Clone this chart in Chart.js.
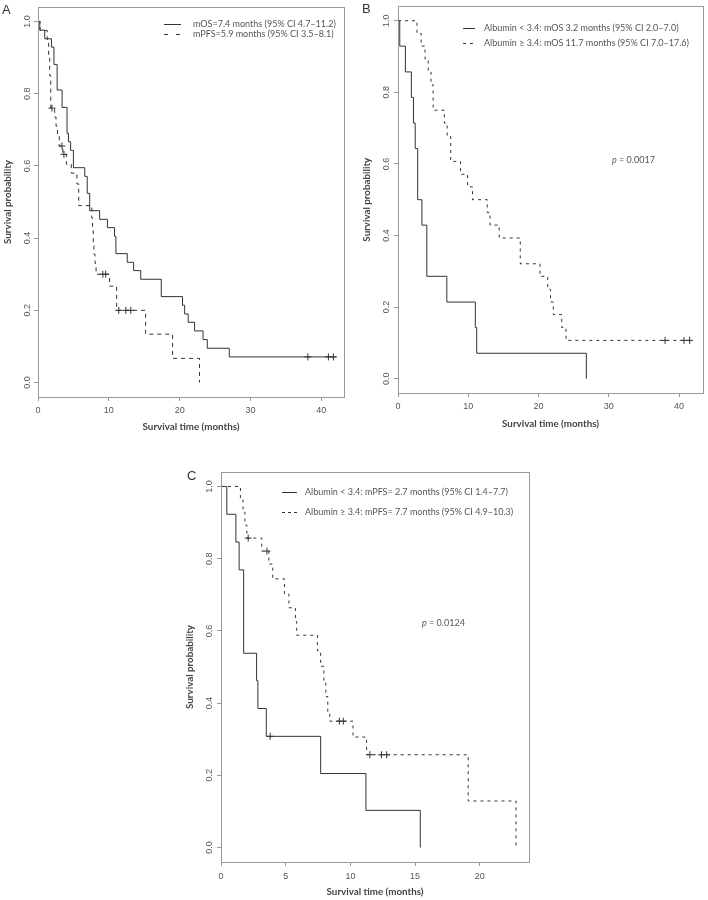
<!DOCTYPE html>
<html>
<head>
<meta charset="utf-8">
<title>Kaplan–Meier survival curves</title>
<script src="https://cdn.jsdelivr.net/npm/chart.js@4.4.1/dist/chart.umd.min.js"></script>
<style>
  html, body { margin:0; padding:0; background:#ffffff; }
  body { position:relative; width:708px; height:900px; overflow:hidden; }
  canvas { position:absolute; display:block; }
</style>
</head>
<body>
<canvas id="panelA" width="354" height="436" style="left:0px;top:0px;width:354px;height:436px"></canvas>
<canvas id="panelB" width="354" height="436" style="left:354px;top:0px;width:354px;height:436px"></canvas>
<canvas id="panelC" width="360" height="460" style="left:180px;top:440px;width:360px;height:460px"></canvas>
<script>
// ---------------- DATA ----------------
// Shared axis ticks
const yTicks = [0, 0.2, 0.4, 0.6, 0.8, 1.0];
const xTicksAB = [0, 10, 20, 30, 40];
const xTicksC = [0, 5, 10, 15, 20];
const xTitle = 'Survival time (months)';
const yTitle = 'Survival probability';

// Panel A – overall survival (solid) and progression-free survival (dashed)
const aLabels = ['mOS=7.4 months (95% CI 4.7–11.2)', 'mPFS=5.9 months (95% CI 3.5–8.1)'];
const aOsTime = [0, 0.25, 0.95, 1.9, 2.25, 2.7, 3.4, 4.1, 4.3, 4.6, 5.0, 6.6, 6.95, 7.3, 8.7, 9.8, 10.8, 11.0, 12.6, 13.5, 14.5, 17.4, 20.4, 20.7, 21.2, 22.1, 23.3, 23.9, 27.0, 42.1];
const aOsSurv = [1, 0.976, 0.952, 0.929, 0.881, 0.810, 0.762, 0.690, 0.667, 0.643, 0.595, 0.571, 0.524, 0.476, 0.452, 0.429, 0.405, 0.357, 0.333, 0.310, 0.286, 0.238, 0.214, 0.190, 0.167, 0.143, 0.119, 0.095, 0.071, 0.071];
const aOsCensTime = [38.1, 41.0, 41.7];
const aOsCensSurv = [0.071, 0.071, 0.071];
const aPfsTime = [0, 0.3, 1.3, 1.5, 1.65, 1.8, 2.35, 2.55, 2.75, 3.0, 3.5, 4.0, 4.7, 5.5, 5.75, 7.6, 7.7, 7.8, 7.9, 8.05, 8.2, 10.1, 11.1, 15.2, 19.0, 22.8];
const aPfsSurv = [1, 0.975, 0.95, 0.90, 0.85, 0.76, 0.735, 0.71, 0.685, 0.655, 0.632, 0.605, 0.58, 0.55, 0.49, 0.455, 0.42, 0.385, 0.355, 0.33, 0.30, 0.267, 0.20, 0.134, 0.067, 0];
const aPfsCensTime = [1.97, 3.38, 3.66, 9.15, 9.55, 11.4, 12.4, 13.1];
const aPfsCensSurv = [0.76, 0.655, 0.632, 0.30, 0.30, 0.20, 0.20, 0.20];

// Panel B – OS by albumin
const bLabels = ['Albumin < 3.4: mOS 3.2 months (95% CI 2.0–7.0)', 'Albumin ≥ 3.4: mOS 11.7 months (95% CI 7.0–17.6)'];
const bPValue = '0.0017';
const bLowTime = [0, 0.25, 1.05, 1.9, 2.2, 2.45, 2.8, 3.4, 4.1, 6.95, 11.0, 11.2, 26.8];
const bLowSurv = [1, 0.929, 0.857, 0.786, 0.714, 0.643, 0.5, 0.429, 0.286, 0.214, 0.143, 0.071, 0];
const bHighTime = [0, 2.7, 3.3, 3.85, 4.3, 4.7, 5.0, 6.6, 7.0, 7.5, 8.9, 9.9, 10.6, 12.7, 13.1, 14.4, 17.4, 20.2, 21.3, 21.7, 22.1, 23.3, 23.9, 41.9];
const bHighSurv = [1, 0.964, 0.929, 0.893, 0.857, 0.821, 0.75, 0.714, 0.679, 0.607, 0.571, 0.536, 0.5, 0.464, 0.429, 0.393, 0.321, 0.286, 0.25, 0.214, 0.179, 0.143, 0.107, 0.107];
const bHighCensTime = [38.0, 40.7, 41.5];
const bHighCensSurv = [0.107, 0.107, 0.107];

// Panel C – PFS by albumin
const cLabels = ['Albumin < 3.4: mPFS= 2.7 months (95% CI 1.4–7.7)', 'Albumin ≥ 3.4: mPFS= 7.7 months (95% CI 4.9–10.3)'];
const cPValue = '0.0124';
const cLowTime = [0, 0.45, 1.15, 1.4, 1.75, 2.75, 2.85, 3.5, 7.7, 11.2, 15.4];
const cLowSurv = [1, 0.923, 0.846, 0.769, 0.538, 0.462, 0.385, 0.308, 0.205, 0.103, 0];
const cLowCensTime = [3.8];
const cLowCensSurv = [0.308];
const cHighTime = [0, 1.5, 1.7, 1.85, 2.0, 3.15, 3.7, 4.0, 4.9, 5.25, 5.75, 5.85, 7.45, 7.7, 7.95, 8.1, 8.25, 8.4, 10.2, 11.25, 19.1, 22.8];
const cHighSurv = [1, 0.964, 0.929, 0.893, 0.857, 0.821, 0.785, 0.744, 0.702, 0.664, 0.626, 0.588, 0.545, 0.502, 0.46, 0.418, 0.376, 0.35, 0.306, 0.257, 0.129, 0];
const cHighCensTime = [2.1, 3.55, 9.15, 9.45, 11.5, 12.4, 12.8];
const cHighCensSurv = [0.857, 0.821, 0.35, 0.35, 0.257, 0.257, 0.257];

// ---------------- STYLE ----------------
const LINE_COLOR = '#333333';
const AXIS_COLOR = '#999999';
const TICK_COLOR = '#555555';
const TITLE_COLOR = '#444444';
const LEGEND_COLOR = '#555555';
const TEXT_FONT = 'Lato, "Open Sans", sans-serif';
const TICK_FONT = '"Liberation Sans", Arial, sans-serif';
const TICK_SIZE = 9;

const mctx = document.createElement('canvas').getContext('2d');
function fitSize(text, weight, family, target) {
  mctx.font = weight + ' 20px ' + family;
  return 20 * target / mctx.measureText(text).width;
}
const legendSize = fitSize(aLabels[0], 'normal', TEXT_FONT, 143);
const titleSize = fitSize(xTitle, 'bold', TEXT_FONT, 97);

function pts(t, s) { return t.map((v, i) => ({ x: v, y: s[i] })); }

function curve(label, t, s, dash) {
  return { type: 'line', label: label, data: pts(t, s), stepped: true, borderColor: LINE_COLOR,
           borderWidth: 1, borderDash: dash, pointRadius: 0, fill: false, tension: 0 };
}
function censors(t, s) {
  return { type: 'scatter', label: 'censored', data: pts(t, s), pointStyle: 'cross', pointRadius: 3.5,
           pointBorderWidth: 1, borderColor: LINE_COLOR, backgroundColor: LINE_COLOR, showLine: false };
}

function makeAnnotator(p) {
  return {
    id: 'annot' + p.letter,
    afterDraw(chart) {
      const ctx = chart.ctx, ca = chart.chartArea;
      ctx.save();
      ctx.strokeStyle = AXIS_COLOR; ctx.lineWidth = 1; ctx.setLineDash([]);
      const L = Math.round(ca.left - 0.5) + 0.5, R = Math.round(ca.right - 0.5) + 0.5;
      const T = Math.round(ca.top - 0.5) + 0.5, B = Math.round(ca.bottom - 0.5) + 0.5;
      ctx.strokeRect(L, T, R - L, B - T);
      // panel letter
      ctx.fillStyle = '#333333';
      ctx.font = '13px ' + TICK_FONT;
      ctx.textAlign = 'left'; ctx.textBaseline = 'middle';
      ctx.fillText(p.letter, p.letterX, p.letterY);
      // legend
      ctx.font = legendSize + 'px ' + TEXT_FONT;
      p.labels.forEach((txt, i) => {
        const y = Math.round(p.legendRows[i]) + 0.5;
        ctx.strokeStyle = LINE_COLOR; ctx.lineWidth = 1; ctx.setLineDash(p.legendDash[i]);
        ctx.beginPath(); ctx.moveTo(p.legendX1, y); ctx.lineTo(p.legendX2, y); ctx.stroke();
        ctx.setLineDash([]);
        ctx.fillStyle = LEGEND_COLOR;
        ctx.fillText(txt, p.legendTextX, p.legendRows[i]);
      });
      // p value
      if (p.pValue) {
        ctx.fillStyle = LEGEND_COLOR;
        ctx.font = 'italic ' + legendSize + 'px ' + TEXT_FONT;
        ctx.fillText('p', p.pX, p.pY);
        const w = ctx.measureText('p').width;
        ctx.font = legendSize + 'px ' + TEXT_FONT;
        ctx.fillText(' = ' + p.pValue, p.pX + w, p.pY);
      }
      ctx.restore();
    }
  };
}

function makePanel(id, p) {
  const canvas = document.getElementById(id);
  const W = canvas.width, H = canvas.height;
  const box = p.box;
  const tl = 4;
  const gridOpts = { drawOnChartArea: false, drawTicks: true, tickLength: tl, color: AXIS_COLOR, lineWidth: 1 };
  const borderOpts = { display: true, color: AXIS_COLOR, width: 1 };
  new Chart(canvas, {
    type: 'line',
    data: { datasets: p.datasets },
    options: {
      responsive: false, animation: false, devicePixelRatio: 1,
      layout: { padding: { left: 0, top: box.top, right: W - box.right, bottom: 0 } },
      plugins: { legend: { display: false }, tooltip: { enabled: false } },
      scales: {
        x: {
          type: 'linear', position: 'bottom', min: 0, max: p.xMax,
          afterFit: s => { s.height = H - box.bottom; },
          afterBuildTicks: s => { s.ticks = p.xTicks.map(v => ({ value: v })); },
          grid: gridOpts, border: borderOpts,
          ticks: { font: { family: TICK_FONT, size: TICK_SIZE }, color: TICK_COLOR, padding: p.xTickPad,
                   autoSkip: false, maxRotation: 0, callback: v => String(v) },
          title: { display: true, text: xTitle, color: TITLE_COLOR,
                   font: { family: TEXT_FONT, size: titleSize, weight: 'bold' },
                   padding: { top: 0, bottom: H - p.xTitleY - 0.6 * titleSize } }
        },
        y: {
          type: 'linear', position: 'left', min: -0.04, max: 1.04,
          afterFit: s => { s.width = box.left; },
          afterBuildTicks: s => { s.ticks = yTicks.map(v => ({ value: v })); },
          grid: gridOpts, border: borderOpts,
          ticks: { font: { family: TICK_FONT, size: TICK_SIZE }, color: TICK_COLOR, padding: p.yTickPad,
                   minRotation: 90, maxRotation: 90, crossAlign: 'center', autoSkip: false,
                   callback: v => Number(v).toFixed(1) },
          title: { display: true, text: yTitle, color: TITLE_COLOR,
                   font: { family: TEXT_FONT, size: titleSize, weight: 'bold' },
                   padding: { top: p.yTitleX - 0.6 * titleSize, bottom: 0 } }
        }
      }
    },
    plugins: [makeAnnotator(p)]
  });
}

makePanel('panelA', {
  letter: 'A', letterX: 2, letterY: 10,
  box: { left: 38, top: 7, right: 344, bottom: 397 },
  xMax: 43.2, xTicks: xTicksAB, xTickPad: 4.6, xTitleY: 427, yTickPad: 0, yTitleX: 7.5,
  labels: aLabels, legendRows: [24, 34], legendX1: 164, legendX2: 181, legendTextX: 193,
  legendDash: [[], [4, 8]],
  datasets: [
    curve(aLabels[0], aOsTime, aOsSurv, []),
    curve(aLabels[1], aPfsTime, aPfsSurv, [4, 4]),
    censors(aOsCensTime, aOsCensSurv),
    censors(aPfsCensTime, aPfsCensSurv)
  ]
});

makePanel('panelB', {
  letter: 'B', letterX: 8, letterY: 9,
  box: { left: 44, top: 2, right: 351, bottom: 393 },
  xMax: 43.4, xTicks: xTicksAB, xTickPad: 4.6, xTitleY: 424, yTickPad: 1.0, yTitleX: 12.7,
  labels: bLabels, legendRows: [28, 43], legendX1: 109, legendX2: 121, legendTextX: 130,
  legendDash: [[], [3, 4]],
  pValue: bPValue, pX: 258, pY: 160,
  datasets: [
    curve(bLabels[0], bLowTime, bLowSurv, []),
    curve(bLabels[1], bHighTime, bHighSurv, [3, 4]),
    censors(bHighCensTime, bHighCensSurv)
  ]
});

makePanel('panelC', {
  letter: 'C', letterX: 7, letterY: 36,
  box: { left: 41, top: 32, right: 349, bottom: 422 },
  xMax: 23.8, xTicks: xTicksC, xTickPad: 5.1, xTitleY: 452, yTickPad: 1.7, yTitleX: 10,
  labels: cLabels, legendRows: [52, 72], legendX1: 102, legendX2: 117, legendTextX: 125,
  legendDash: [[], [3, 3]],
  pValue: cPValue, pX: 242, pY: 183,
  datasets: [
    curve(cLabels[0], cLowTime, cLowSurv, []),
    curve(cLabels[1], cHighTime, cHighSurv, [3, 4]),
    censors(cLowCensTime, cLowCensSurv),
    censors(cHighCensTime, cHighCensSurv)
  ]
});
</script>
</body>
</html>
